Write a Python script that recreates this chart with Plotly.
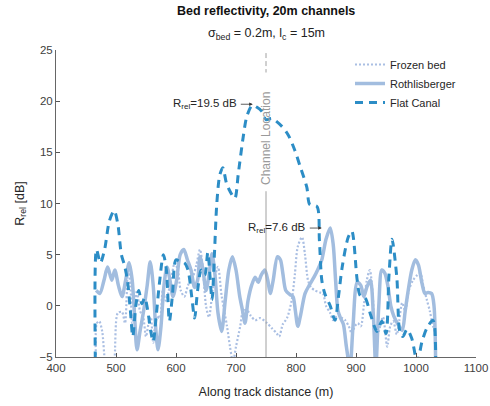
import plotly.graph_objects as go

# ---------------- data ----------------
frozen_x = [467, 468, 472, 477, 482, 490, 497, 503, 510, 515, 520, 524, 527, 531, 535, 540, 545, 550,
            555, 558, 562, 568, 573, 578, 583, 590, 598, 603, 608, 614, 620, 628, 634, 640, 645, 650,
            655, 662, 670, 676, 685, 690, 695, 700, 707, 712, 718, 725, 732, 740, 752, 760, 768, 772,
            778, 785, 793, 798, 803, 810, 815, 820, 825, 832, 840, 845, 850, 857, 862, 870, 877, 882,
            888, 893, 898, 903, 908, 913, 918, 923, 928, 932, 938, 945, 952, 957, 962, 968, 972, 977,
            982, 988, 995, 1002, 1007, 1012, 1018, 1023, 1027, 1031, 1033]
frozen_y = [-6, -1.7, -1.5, -2.5, -5.5, -7, -5.5, -0.7, -0.6, -1.7, 3.5, 2, -1.7, -0.5, 1.5, -0.5, -1, -3,
            -1.5, -1.1, -3.6, -1, -1.2, 1.5, 0.5, 2, 4.2, 3.5, 1.5, 0.9, 2, 2.8, 4, 5.5, 3.5, 0,
            -1.1, 2, 3.8, 1, -2, -4, -5.5, -4, -2, -0.5, -0.4, -1, -1.4, -1.2, -1.7, -2.2, -2.7, -3,
            -1.8, -1.2, 0.6, 3, 5.8, 6.7, 5, 2.5, 1.8, 1.5, 1.3, 1.2, 0, -0.7, -1.4, -0.9, -1.2, -1.4,
            -2, -2.7, -2, -1.7, -2, 0, 2.5, 3.5, 1, -3.3, -2.5, -1.1, -4, -2, -1.5, -2.8, -1.5, 0.3,
            -0.5, 1.5, 2.5, 3, 3.2, 2, 0.6, -0.5, -1.7, -2.5, -7]

roth_x = [467, 473, 480, 486, 493, 498, 504, 510, 516, 522, 527, 531, 535, 540, 546, 552, 557, 562, 566,
          570, 575, 580, 585, 590, 595, 601, 607, 613, 619, 625, 631, 636, 640, 645, 650, 655, 660, 665,
          670, 676, 682, 688, 694, 700, 706, 711, 715, 720, 726, 732, 737, 742, 748, 753, 757, 762, 769,
          774, 778, 783, 790, 795, 799, 803, 808, 815, 822, 830, 836, 843, 850, 857, 862, 866, 870, 875,
          879, 884, 890, 895, 902, 908, 913, 918, 924, 929, 933, 938, 943, 948, 953, 958, 963, 970, 977,
          982, 987, 993, 999, 1004, 1010, 1015, 1020, 1026, 1030, 1033]
roth_y = [1.5, 1.2, 2.5, 3.8, 2.5, 3.5, 2, 0.9, 2.5, 4.2, 2.5, -1, -4.3, -2.5, -0.5, 2, 4.3, 2, -2,
          -4.3, -2, 2, 3.8, 2.5, 0.9, 2.5, 5, 5.5, 4.5, 3.5, 1.8, 2.5, 4.8, 3.5, 1.5, 3, 5.1, 3,
          -0.7, -2.5, 0.5, 3.5, 4.8, 3.5, 1, -0.5, -1.7, 0.5, 2, 2.8, 2.3, 3, 3.5, 2.5, 1.2, 2.5, 4.8,
          4.5, 3.2, 1.5, 1.1, 0.9, -0.5, -2, -0.8, 1.2, 2, 2.8, 3.5, 4.5, 6.5, 7.6, 6, 2.5, -0.5, -1.3,
          -1.8, -4, -6, -2, 2.3, 2, 0.9, 1.8, 2.5, -1, -6, 0, 3.5, 3.2, 2, 0, -1, -1.8, -2.4,
          -0.5, 1.5, 3.5, 4.5, 4, 2.2, 1.2, 1.3, 1.2, 0, -7]

canal_x = [466, 467.5, 474, 481, 489, 497, 503, 509, 514, 519, 524, 528, 533, 538, 543, 548, 553, 558,
           562, 567, 572, 579, 584, 589, 594, 600, 607, 614, 620, 626, 631, 636, 642, 648, 653, 660,
           664, 668, 673, 678, 684, 690, 698, 704, 712, 718, 727, 735, 743, 750, 760, 777, 787, 798,
           807, 818, 823, 835, 839, 843, 848, 857, 865, 871, 877, 887, 893, 902, 907, 915, 925, 935,
           943, 950, 955, 960, 968, 973, 978, 985, 993, 1002, 1010, 1018, 1028, 1031, 1033]
canal_y = [-8, 5.5, 4.2, 5.5, 8.3, 9.3, 8, 5, 4, 2.5, -0.5, -3, 0, 1.5, 0.2, 0.8, -0.5, -2.5,
           -3.5, -1, 2, 5, 3.5, -1.5, 1, 4.5, 4.3, 4.2, 3.5, 1, -1.2, 1.5, 3.5, 3, 5.2, 0.6,
           5, 10, 12.8, 13.5, 12, 11.2, 10.5, 13, 16.5, 18.5, 19.6, 19.4, 19, 18.2, 18.3, 17.5, 16.7, 15.2,
           13.6, 11.6, 9.9, 9.7, 6.4, 2.5, 1.2, 0, -1.4, 1, 3.8, 6.7, 7.3, 2.5, 1, 0.8, -1, -2.5,
           -1.5, -2.7, 3, 6.5, 2.8, -2.5, -3, -2.3, -3.2, -5.5, -3.5, -2.2, -1.4, -2, -8]

channel_x = 750
peak_labels = ["R<sub>rel</sub>=19.5 dB", "R<sub>rel</sub>=7.6 dB"]
peak_tip_x = [728, 843]
peak_tip_y = [19.7, 7.6]

x_ticks = [400, 500, 600, 700, 800, 900, 1000, 1100]
y_ticks = [-5, 0, 5, 10, 15, 20, 25]

# ---------------- figure ----------------
FONT = "Liberation Sans, Arial, Helvetica, sans-serif"
fig = go.Figure()

fig.add_trace(go.Scatter(x=frozen_x, y=frozen_y, mode="lines", name="Frozen bed",
                         line=dict(color="#aabfe3", width=2.2, dash="2px,2px", shape="spline", smoothing=0.8)))
fig.add_trace(go.Scatter(x=roth_x, y=roth_y, mode="lines", name="Rothlisberger",
                         line=dict(color="#a2bddf", width=3.5, shape="spline", smoothing=0.8)))
fig.add_trace(go.Scatter(x=canal_x, y=canal_y, mode="lines", name="Flat Canal",
                         line=dict(color="#2c8dc6", width=3, dash="8px,6px", shape="spline", smoothing=0.8)))

# channel location line (two parts around its label)
fig.add_trace(go.Scatter(x=[channel_x, channel_x], y=[-5, 11.2], mode="lines", showlegend=False,
                         hoverinfo="skip", line=dict(color="#a0a0a0", width=1)))
fig.add_trace(go.Scatter(x=[channel_x, channel_x], y=[24.7, 22.8], mode="lines", showlegend=False,
                         hoverinfo="skip", line=dict(color="#a0a0a0", width=1, dash="5px,3px")))

annotations = [
    dict(x=channel_x, y=16.3, xref="x", yref="y", text="Channel Location", textangle=-90,
         showarrow=False, font=dict(family=FONT, size=12, color="#9a9a9a")),
    dict(x=0.5, y=1.156, xref="paper", yref="paper", text="<b>Bed reflectivity, 20m channels</b>",
         showarrow=False, font=dict(family=FONT, size=12.5, color="#111111")),
    dict(x=0.5, y=1.084, xref="paper", yref="paper",
         text="\u03c3<sub>bed</sub> = 0.2m, l<sub>c</sub> = 15m",
         showarrow=False, font=dict(family=FONT, size=12.5, color="#222222")),
]
for t, tx, ty in zip(peak_labels, peak_tip_x, peak_tip_y):
    annotations.append(dict(x=tx, y=ty, xref="x", yref="y", text=t, showarrow=True,
                            ax=-14, ay=0, axref="pixel", ayref="pixel",
                            xanchor="right", yanchor="middle",
                            arrowhead=2, arrowsize=0.9, arrowwidth=0.8, arrowcolor="#333333",
                            standoff=0, startstandoff=2,
                            font=dict(family=FONT, size=11.5, color="#262626")))

fig.update_layout(
    width=490, height=406,
    margin=dict(l=56, r=14, t=50, b=49),
    paper_bgcolor="white", plot_bgcolor="white",
    font=dict(family=FONT, size=11, color="#404040"),
    showlegend=True,
    legend=dict(x=0.7, y=1.0, xanchor="left", yanchor="top", bgcolor="rgba(0,0,0,0)",
                font=dict(family=FONT, size=11, color="#262626"), tracegroupgap=0,
                itemwidth=30),
    annotations=annotations,
)
fig.update_xaxes(range=[400, 1100], tickvals=x_ticks, ticks="inside", ticklen=4, tickcolor="#555555",
                 showgrid=False, zeroline=False, showline=True, linecolor="#666666", linewidth=1,
                 automargin=False,
                 tickfont=dict(family=FONT, size=11.5, color="#404040"),
                 title=dict(text="Along track distance (m)", standoff=14,
                            font=dict(family=FONT, size=12.5, color="#262626")))
fig.update_yaxes(range=[-5, 25], tickvals=y_ticks, ticks="inside", ticklen=4, tickcolor="#555555",
                 showgrid=False, zeroline=False, showline=True, linecolor="#666666", linewidth=1,
                 automargin=False,
                 tickfont=dict(family=FONT, size=11.5, color="#404040"),
                 title=dict(text="R<sub>rel</sub> [dB]", standoff=12,
                            font=dict(family=FONT, size=12.5, color="#262626")))

fig.write_html("out.html", config={"displayModeBar": False},
               post_script="document.body.style.margin='0';")
